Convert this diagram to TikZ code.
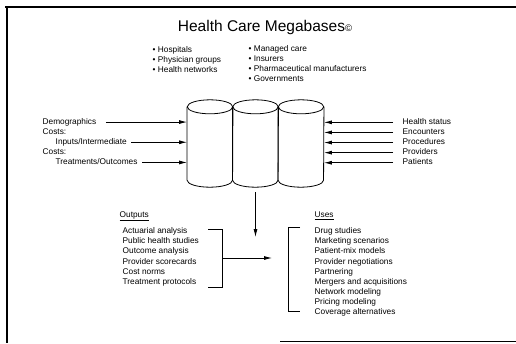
\documentclass[tikz,border=0pt]{standalone}
\usepackage{fontspec}
\setmainfont{Liberation Sans}
\usetikzlibrary{arrows.meta,positioning}

\begin{document}
\begin{tikzpicture}[x=1pt,y=-1pt,
  item/.style={
    font=\fontsize{8.3}{9.7}\selectfont, anchor=north west,
    inner xsep=0.5pt, inner ysep=0.55pt, text height=6.5pt, text depth=2.1pt
  },
  dbbox/.style={
    rectangle, minimum width=45.5pt, minimum height=87pt, inner sep=0
  },
  dbline/.style={line width=0.8pt},
  arr/.style={-{Latex[length=8pt,width=4pt]}, line width=0.8pt},
  frame/.style={line width=1.6pt},
]
\useasboundingbox (0,0) rectangle (516,343);
% Frame
\draw[frame] (5,7) -- (516,7);
\draw[frame] (7,6) -- (7,343);
\draw[frame] (280,341.5) -- (516,341.5);
% Title
\node[font=\fontsize{15.5}{17}\selectfont] (title) at (265,27)
  {Health Care Megabases{\fontsize{9.5}{9.5}\selectfont\textcopyright}};
% Sources
\node[item] (hosp) at (152,45) {\textbullet\ Hospitals};
\node[item] (phys) at (hosp.south west) {\textbullet\ Physician groups};
\node[item] (hnet) at (phys.south west) {\textbullet\ Health networks};
\node[item] (mcare) at (248,44) {\textbullet\ Managed care};
\node[item] (ins) at (mcare.south west) {\textbullet\ Insurers};
\node[item] (pharm) at (ins.south west) {\textbullet\ Pharmaceutical manufacturers};
\node[item] (gov) at (pharm.south west) {\textbullet\ Governments};
% Databases
\node[dbbox] (db1) at (210,143.5) {};
\node[dbbox] (db2) at (255.5,143.5) {};
\node[dbbox] (db3) at (301,143.5) {};
\draw[dbline] ([yshift=-7pt]db1.north) ellipse[x radius=22.75pt, y radius=7pt];
\draw[dbline] ([yshift=-7pt]db2.north) ellipse[x radius=22.75pt, y radius=7pt];
\draw[dbline] ([yshift=-7pt]db3.north) ellipse[x radius=22.75pt, y radius=7pt];
\draw[dbline] ([yshift=-7pt]db1.north west) -- ([yshift=7pt]db1.south west)
  arc[start angle=180, end angle=360, x radius=22.75pt, y radius=7pt]
  -- ([yshift=-7pt]db1.north east);
\draw[dbline] ([yshift=-7pt]db2.north west) -- ([yshift=7pt]db2.south west)
  arc[start angle=180, end angle=360, x radius=22.75pt, y radius=7pt]
  -- ([yshift=-7pt]db2.north east);
\draw[dbline] ([yshift=-7pt]db3.north west) -- ([yshift=7pt]db3.south west)
  arc[start angle=180, end angle=360, x radius=22.75pt, y radius=7pt]
  -- ([yshift=-7pt]db3.north east);
% Inputs left
\node[item] (demo) at (42,117) {Demographics};
\node[item] (cost1) at (demo.south west) {Costs:};
\node[item,xshift=13pt] (inter) at (cost1.south west) {Inputs/Intermediate};
\node[item] (cost2) at (cost1.south west |- inter.south) {Costs:};
\node[item,xshift=13pt] (treat) at (cost2.south west) {Treatments/Outcomes};
\draw[arr,shorten <=9pt] (demo.east) -- (demo.east -| db1.west);
\draw[arr,shorten <=4pt] (inter.east) -- (inter.east -| db1.west);
\draw[arr,shorten <=4pt] (treat.east) -- (treat.east -| db1.west);
% Inputs right
\node[item] (hstat) at (402,117.3) {Health status};
\node[item] (enc) at (hstat.south west) {Encounters};
\node[item] (proc) at (enc.south west) {Procedures};
\node[item] (prov) at (proc.south west) {Providers};
\node[item] (pat) at (prov.south west) {Patients};
\draw[arr,shorten <=9pt] (hstat.west) -- (hstat.west -| db3.east);
\draw[arr,shorten <=9pt] (enc.west) -- (enc.west -| db3.east);
\draw[arr,shorten <=9pt] (proc.west) -- (proc.west -| db3.east);
\draw[arr,shorten <=9pt] (prov.west) -- (prov.west -| db3.east);
\draw[arr,shorten <=9pt] (pat.west) -- (pat.west -| db3.east);
% Down arrow
\coordinate (drop) at (255.5,237);
\draw[arr,shorten <=5pt] (db2.south) -- (drop);
% Outputs
\node[item] (outh) at (119,210) {\underline{Outputs}};
\node[item] (o1) at (122,226.5) {Actuarial analysis};
\node[item] (o2) at (o1.south west) {Public health studies};
\node[item] (o3) at (o2.south west) {Outcome analysis};
\node[item] (o4) at (o3.south west) {Provider scorecards};
\node[item] (o5) at (o4.south west) {Cost norms};
\node[item] (o6) at (o5.south west) {Treatment protocols};
\draw[line width=0.8pt] (208,229) -- (222,229) -- (222,287) -- (208,287);
\coordinate (obr) at (222,258);
\coordinate (ubr) at (272,258);
\draw[arr] (obr) -- (ubr);
% Uses
\node[item] (useh) at (314,210) {\underline{Uses}};
\node[item] (u1) at (314,226.5) {Drug studies};
\node[item] (u2) at (u1.south west) {Marketing scenarios};
\node[item] (u3) at (u2.south west) {Patient-mix models};
\node[item] (u4) at (u3.south west) {Provider negotiations};
\node[item] (u5) at (u4.south west) {Partnering};
\node[item] (u6) at (u5.south west) {Mergers and acquisitions};
\node[item] (u7) at (u6.south west) {Network modeling};
\node[item] (u8) at (u7.south west) {Pricing modeling};
\node[item] (u9) at (u8.south west) {Coverage alternatives};
\draw[line width=0.8pt] (300,227) -- (288,227) -- (288,311) -- (300,311);
\end{tikzpicture}
\end{document}
